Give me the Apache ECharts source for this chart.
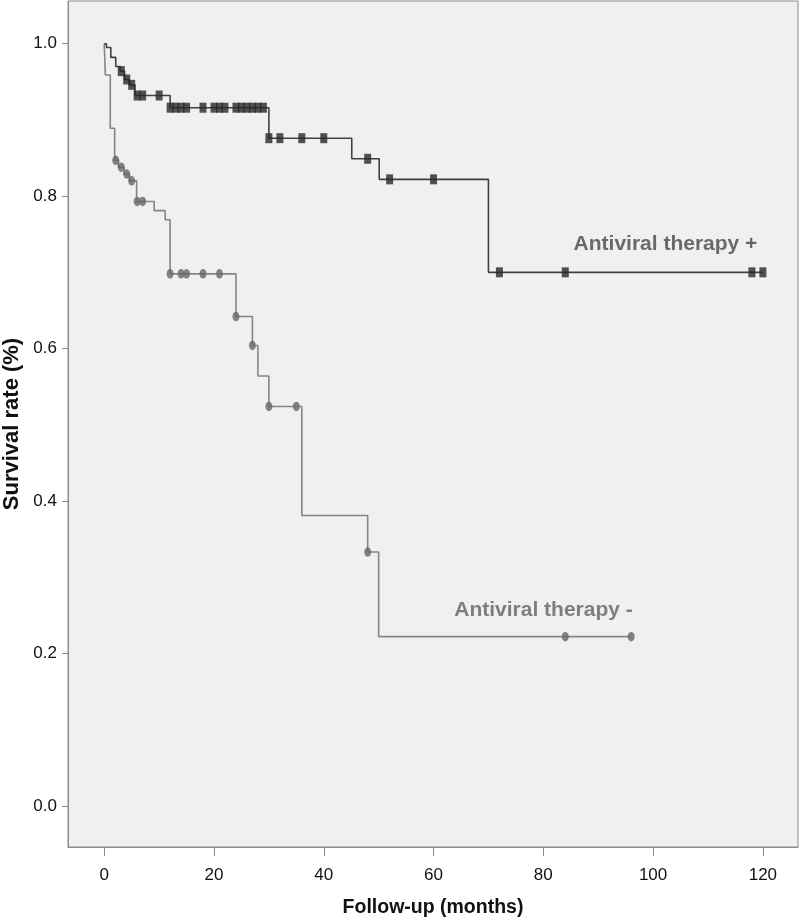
<!DOCTYPE html>
<html>
<head>
<meta charset="utf-8">
<script src="https://cdn.jsdelivr.net/npm/echarts@6/dist/echarts.min.js"></script>
<style>
html,body{margin:0;padding:0;background:#fff;}
#chart{width:800px;height:920px;}
</style>
</head>
<body>
<div id="chart"></div>
<script>
// Kaplan-Meier step data (time in months, survival proportion)
const timeTreated = [0, 0.4, 1.2, 2.1, 2.9, 3.7, 4.6, 5.6, 12, 30, 45.1, 50.1, 70, 120];
const survTreated = [1.0, 0.995, 0.982, 0.970, 0.964, 0.953, 0.946, 0.932, 0.916, 0.876, 0.849, 0.822, 0.700, 0.700];
const censorTreated = [3.1, 4.1, 5.0, 6, 7, 10, 12, 13, 14, 15, 18, 20, 21, 22, 24, 25, 26, 27, 28, 29, 30, 32, 36, 40, 48, 52, 60, 72, 84, 118, 120];

const timeUntreated = [0, 0.2, 1.1, 1.9, 2.6, 3.6, 4.6, 5.9, 9.1, 11.1, 12, 24, 27, 28, 30, 36, 48, 50, 96];
const survUntreated = [1.0, 0.959, 0.889, 0.847, 0.838, 0.829, 0.820, 0.793, 0.781, 0.769, 0.698, 0.642, 0.604, 0.564, 0.524, 0.381, 0.333, 0.222, 0.222];
const censorUntreated = [2.1, 3.1, 4.1, 5.0, 6, 7, 12, 14, 15, 18, 21, 24, 27, 30, 35, 48, 84, 96];

const xTicks = [0, 20, 40, 60, 80, 100, 120];
const yTicks = [0, 0.2, 0.4, 0.6, 0.8, 1.0];

const groupLabels = ['Antiviral therapy +', 'Antiviral therapy -'];

function stepPairs(t, s) { return t.map((v, i) => [v, s[i]]); }
function survAt(t, s, x) {
  let v = s[0];
  for (let i = 0; i < t.length; i++) { if (t[i] <= x + 1e-9) v = s[i]; }
  return v;
}
function censorPairs(t, s, c) { return c.map(x => [x, survAt(t, s, x)]); }

const chart = echarts.init(document.getElementById('chart'), null, {renderer: 'canvas'});
const font = "'Liberation Sans', Arial, Helvetica, sans-serif";

chart.setOption({
  backgroundColor: '#ffffff',
  animation: false,
  grid: {
    left: 68, right: 2, top: 1, bottom: 73,
    outerBoundsMode: 'none', containLabel: false,
    show: true, backgroundColor: '#f0f0f0', borderColor: '#8c8c8c', borderWidth: 1
  },
  xAxis: {
    type: 'value', min: -6.6, max: 126.4,
    name: 'Follow-up (months)', nameLocation: 'middle', nameGap: 51,
    nameTextStyle: {fontFamily: font, fontSize: 19.5, fontWeight: 'bold', color: '#111'},
    axisLine: {show: true, onZero: false, lineStyle: {color: '#8c8c8c', width: 1}},
    axisTick: {show: true, length: 9, customValues: xTicks, lineStyle: {color: '#8c8c8c'}},
    axisLabel: {customValues: xTicks, fontFamily: font, fontSize: 17, color: '#111', margin: 20},
    splitLine: {show: false}
  },
  yAxis: {
    type: 'value', min: -0.054, max: 1.056,
    name: 'Survival rate (%)', nameLocation: 'middle', nameGap: 44,
    nameTextStyle: {fontFamily: font, fontSize: 22, fontWeight: 'bold', color: '#111'},
    axisLine: {show: true, onZero: false, lineStyle: {color: '#8c8c8c', width: 1}},
    axisTick: {show: true, length: 6, customValues: yTicks, lineStyle: {color: '#8c8c8c'}},
    axisLabel: {customValues: yTicks, fontFamily: font, fontSize: 17, color: '#111', margin: 11,
      formatter: v => v.toFixed(1)},
    splitLine: {show: false}
  },
  series: [
    {
      name: groupLabels[1], type: 'line', step: 'end', showSymbol: false,
      data: stepPairs(timeUntreated, survUntreated),
      lineStyle: {color: '#858585', width: 1.6}, z: 2
    },
    {
      name: groupLabels[0], type: 'line', step: 'end', showSymbol: false,
      data: stepPairs(timeTreated, survTreated),
      lineStyle: {color: '#404040', width: 1.6}, z: 3
    },
    {
      name: groupLabels[1] + ' censored', type: 'scatter', symbol: 'circle', symbolSize: [7, 9.5],
      data: censorPairs(timeUntreated, survUntreated, censorUntreated),
      itemStyle: {color: '#666666'}, z: 4
    },
    {
      name: groupLabels[0] + ' censored', type: 'scatter', symbol: 'rect', symbolSize: [7, 10],
      data: censorPairs(timeTreated, survTreated, censorTreated),
      itemStyle: {color: '#282828'}, z: 5
    },
    {
      name: 'labels', type: 'scatter', symbolSize: 0, silent: true,
      data: [
        {value: [119, 0.737], name: groupLabels[0], label: {color: '#474747'}},
        {value: [96.3, 0.257], name: groupLabels[1], label: {color: '#626262'}}
      ],
      label: {show: true, position: 'left', distance: 0, formatter: p => p.name,
        fontFamily: font, fontSize: 21, fontWeight: 'bold'},
      z: 6
    }
  ]
});
</script>
</body>
</html>
